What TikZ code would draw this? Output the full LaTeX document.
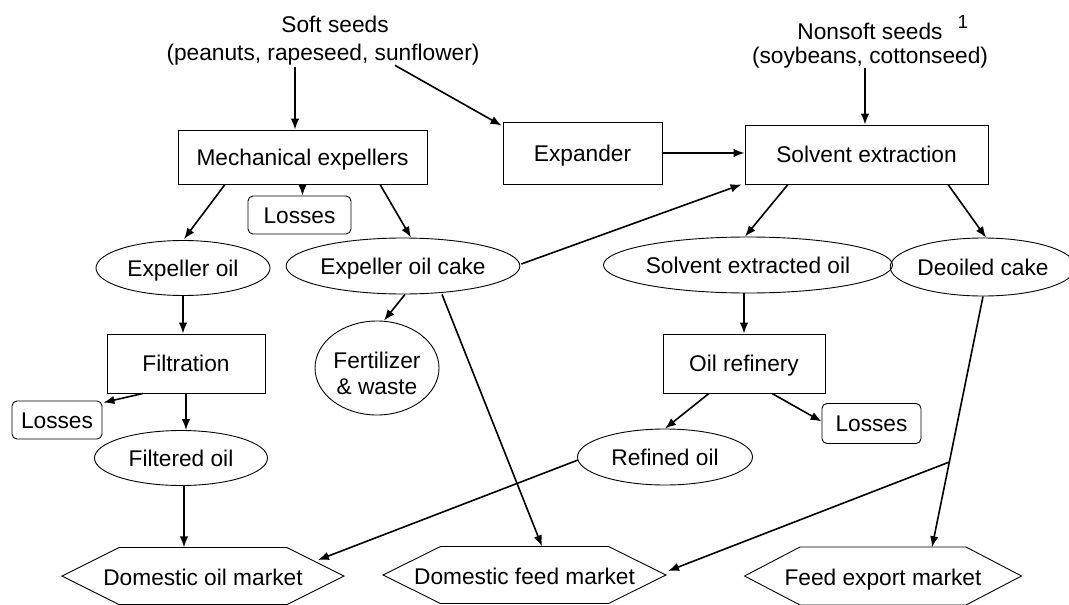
\documentclass[tikz,border=0pt]{standalone}
\usepackage{fontspec}
\setmainfont{Liberation Sans}
\usetikzlibrary{shapes.geometric,arrows.meta,calc}
\begin{document}
\begin{tikzpicture}[x=1pt,y=-1pt,
  every node/.style={font=\fontsize{22.7}{26}\selectfont, inner sep=0pt, text=black, text height=16.3pt, text depth=0pt},
  procbox/.style={draw, line width=0.9pt, rectangle},
  lossbox/.style={draw, line width=0.9pt, rounded corners=5pt, rectangle},
  oval/.style={draw, line width=0.9pt, ellipse},
  market/.style={rectangle, minimum width=#1, minimum height=57pt},
  hexline/.style={line width=0.9pt},
  arr/.style={line width=1.6pt, -{Latex[length=11pt,width=8.5pt]}}
]
\useasboundingbox (0,0) rectangle (1069,605);

% inputs
\node (soft1) at (335,24) {Soft seeds};
\node (soft2) at (323,52) {(peanuts, rapeseed, sunflower)};
\node (nonsoft1) at (870,31) {Nonsoft seeds};
\node (nonsoft2) at (870,55) {(soybeans, cottonseed)};
\node[font=\fontsize{19}{22}\selectfont, text height=13.6pt] (note) at (963,22) {1};

% process boxes
\node[procbox, minimum width=249pt, minimum height=54pt] (mech) at (302.5,157) {Mechanical expellers};
\node[procbox, minimum width=159pt, minimum height=62pt] (expander) at (582.5,153) {Expander};
\node[procbox, minimum width=243pt, minimum height=59pt] (solvent) at (866.5,154.5) {Solvent extraction};
\node[procbox, minimum width=158pt, minimum height=59pt] (filtration) at (186,363.5) {Filtration};
\node[procbox, minimum width=162pt, minimum height=59pt] (refinery) at (744,363.5) {Oil refinery};

% losses
\node[lossbox, minimum width=103pt, minimum height=38pt] (loss1) at (299.5,215) {Losses};
\node[lossbox, minimum width=90pt, minimum height=38pt] (loss2) at (57,420) {Losses};
\node[lossbox, minimum width=99pt, minimum height=40pt] (loss3) at (871.5,423.5) {Losses};

% products
\node[oval, minimum width=174pt, minimum height=55pt] (expoil) at (183,268) {Expeller oil};
\node[oval, minimum width=213pt, minimum height=56pt] (cake) at (403,266) {Expeller oil cake};
\node[oval, minimum width=124pt, minimum height=94pt] (fert) at (377,368) {};
\node[align=center, text height=, text depth=] (fertlabel) at ($(fert.center)+(0,5)$) {Fertilizer\\\& waste};
\node[oval, minimum width=260pt, minimum height=56pt] (solvoil) at (748,265) {Solvent extracted oil};
\node[oval, minimum width=172pt, minimum height=58pt] (deoiled) at (983,267) {Deoiled cake};
\node[oval, minimum width=173pt, minimum height=55pt] (filtered) at (181,458) {Filtered oil};
\node[oval, minimum width=175pt, minimum height=56pt] (refined) at (665,457) {Refined oil};

% markets
\node[market=282pt] (domoil) at (203,577) {Domestic oil market};
\draw[hexline] ($(domoil.center)+(-141,-1)$) -- ++(57,-28.5) -- ++(168,0) -- ++(57,28.5) -- ++(-57,28.5) -- ++(-168,0) -- cycle;
\node[market=283pt] (domfeed) at (524.5,576) {Domestic feed market};
\draw[hexline] ($(domfeed.center)+(-141.5,-1)$) -- ++(57.5,-28.5) -- ++(168,0) -- ++(57.5,28.5) -- ++(-57.5,28.5) -- ++(-168,0) -- cycle;
\node[market=277pt] (feedexp) at (883,577) {Feed export market};
\draw[hexline] ($(feedexp.center)+(-138.5,-1)$) -- ++(55.5,-29) -- ++(166,0) -- ++(55.5,29) -- ++(-55.5,29) -- ++(-166,0) -- cycle;

% connectors
\draw[arr] ($(soft2.south)+(-28,7)$) -- ($(mech.north)+(-7.5,0)$);
\draw[arr] ($(soft2.south)+(72,5)$) -- ($(expander.north west)+(-1,4)$);
\draw[arr] ($(nonsoft2.south)+(-5,5)$) -- ($(solvent.north)+(-1.5,0)$);
\draw[arr] (expander.east) -- (expander.east -| solvent.west);
\draw[arr] ($(mech.south)+(-77.5,0)$) -- ($(expoil.north)+(1,-1)$);
\draw[arr] (mech.south) -- (mech.south |- loss1.north);
\draw[arr] ($(mech.south)+(77.5,0)$) -- ($(cake.north)+(8,0)$);
\draw[arr] ($(cake.east)+(1,-2)$) -- ($(solvent.south west)+(-3,0)$);
\draw[arr] ($(solvent.south)+(-78.5,0)$) -- ($(solvoil.north)+(-3,0)$);
\draw[arr] ($(solvent.south)+(81.5,0)$) -- ($(deoiled.north)+(3,0)$);
\draw[arr] (expoil.south) -- ($(filtration.north)+(-3,0)$);
\draw[arr] ($(cake.south)+(2,0)$) -- ($(fert.north)+(7,0)$);
\draw[arr] ($(cake.south)+(39,0)$) -- ($(domfeed.north)+(17.5,-1)$);
\draw[arr] ($(solvoil.south)+(-4,0)$) -- (refinery.north);
\draw[arr] ($(filtration.south)+(-43,0)$) -- ($(loss2.north east)+(1,2)$);
\draw[arr] (filtration.south) -- (filtration.south |- filtered.north);
\draw[arr] ($(filtered.south)+(3,0)$) -- ($(filtered.south |- domoil.north)+(3,-1)$);
\draw[arr] ($(refinery.south)+(-35,0)$) -- (refined.north);
\draw[arr] ($(refinery.south)+(28,0)$) -- ($(loss3.west)+(0,-2)$);
\draw[arr] ($(refined.west)+(1,3)$) -- ($(domoil.center)+(115,-17)$);
\coordinate (feedtop) at ($(feedexp.north)+(49,-1)$);
\coordinate (branch) at ($(deoiled.south)!0.66!(feedtop)$);
\draw[arr] (deoiled.south) -- (feedtop);
\draw[arr] (branch) -- ($(domfeed.center)+(143.5,-5)$);
\end{tikzpicture}
\end{document}
